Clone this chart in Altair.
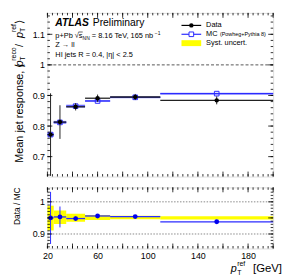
import altair as alt
import pandas as pd

# ---- data ----
bin_lo = [20, 25, 35, 50, 70, 110]
bin_hi = [25, 35, 50, 70, 110, 200]
bin_c = [22.5, 30, 42.5, 60, 90, 155]
data_resp = [0.772, 0.813, 0.863, 0.891, 0.895, 0.884]
data_err = [0.135, 0.055, 0.012, 0.012, 0.010, 0.013]
mc_resp = [0.772, 0.812, 0.865, 0.882, 0.894, 0.906]
mc_err = [0.006, 0.005, 0.005, 0.003, 0.003, 0.003]
ratio = [1.000, 1.006, 0.996, 1.012, 1.008, 0.976]
ratio_err = [0.162, 0.065, 0.014, 0.010, 0.010, 0.012]
syst_lo = [0.922, 0.962, 0.976, 0.987, 0.992, 0.990]
syst_hi = [1.076, 1.046, 1.026, 1.018, 1.014, 1.010]

x_major = [20, 40, 60, 80, 100, 120, 140, 160, 180, 200]
x_minor = list(range(20, 201, 4))
y1_major = [0.7, 0.8, 0.9, 1.0, 1.1]
y1_minor = [round(0.64 + 0.02 * i, 2) for i in range(27)]
y2_major = [0.9, 1.0, 1.1]
y2_minor = [round(0.82 + 0.02 * i, 2) for i in range(19)]

df = pd.DataFrame({
    "lo": bin_lo, "hi": bin_hi, "c": bin_c,
    "d": data_resp, "dlo": [a - b for a, b in zip(data_resp, data_err)],
    "dhi": [a + b for a, b in zip(data_resp, data_err)],
    "m": mc_resp, "mlo": [a - b for a, b in zip(mc_resp, mc_err)],
    "mhi": [a + b for a, b in zip(mc_resp, mc_err)],
    "r": ratio, "rlo": [a - b for a, b in zip(ratio, ratio_err)],
    "rhi": [a + b for a, b in zip(ratio, ratio_err)],
    "slo": syst_lo, "shi": syst_hi,
})

W, H1, H2 = 229, 166, 62
FONT = "Liberation Sans"
BLUE = "#2b2bff"
one = pd.DataFrame({"a": [0]})

xs = alt.Scale(domain=[20, 200], nice=False, zero=False)
ys1 = alt.Scale(domain=[0.635, 1.17], nice=False, zero=False)
ys2 = alt.Scale(domain=[0.81, 1.19], nice=False, zero=False)


def txt(s, x, y, size, angle=0, align="left", style=None, weight=None, baseline="middle"):
    kw = dict(text=s, fontSize=size, align=align, baseline=baseline, font=FONT, color="black")
    if angle:
        kw["angle"] = angle
    if style:
        kw["fontStyle"] = style
    if weight:
        kw["fontWeight"] = weight
    return alt.Chart(one).mark_text(**kw).encode(x=alt.value(x), y=alt.value(y))


def ticks(vals, axis, h, w, length, scale):
    d = pd.DataFrame({"v": vals})
    b = alt.Chart(d).mark_rule(color="black", strokeWidth=0.8)
    if axis == "x":
        f = alt.X("v:Q", scale=xs, title=None)
        return (b.encode(x=f, y=alt.value(h), y2=alt.value(h - length)) +
                b.encode(x=f, y=alt.value(0), y2=alt.value(length)))
    f = alt.Y("v:Q", scale=scale, title=None)
    return (b.encode(y=f, x=alt.value(0), x2=alt.value(length)) +
            b.encode(y=f, x=alt.value(w), x2=alt.value(w - length)))


axis_common = dict(ticks=False, domain=False, grid=False, labelFontSize=9, labelFont=FONT,
                   labelColor="black", labelPadding=3, title=None, labelOverlap=False)
yaxis1 = alt.Axis(values=y1_major, format="~g", **axis_common)
yaxis2 = alt.Axis(values=y2_major, format="~g", **axis_common)
xaxis2 = alt.Axis(values=x_major, format="d", labelFlush=False, **axis_common)

b1 = alt.Chart(df)
mc_band = b1.mark_rect(color="#8080ff", opacity=0.9).encode(
    x=alt.X("lo:Q", scale=xs, axis=None), x2="hi",
    y=alt.Y("mlo:Q", scale=ys1, axis=yaxis1), y2="mhi")
mc_line = b1.mark_rule(color=BLUE, strokeWidth=1.2).encode(x="lo:Q", x2="hi", y="m:Q")
mc_pt = b1.mark_point(shape="square", filled=False, color=BLUE, size=22, strokeWidth=1,
                      opacity=1).encode(x="c:Q", y="m:Q")
d_h = b1.mark_rule(color="#222222", strokeWidth=1.3).encode(x="lo:Q", x2="hi", y="d:Q")
d_v = b1.mark_rule(color="#222222", strokeWidth=1).encode(x="c:Q", y="dlo:Q", y2="dhi")
d_pt = b1.mark_circle(color="black", size=20, opacity=1).encode(x="c:Q", y="d:Q")
one_line = alt.Chart(pd.DataFrame({"v": [1.0]})).mark_rule(
    color="#555555", strokeDash=[3, 2], strokeWidth=1).encode(y=alt.Y("v:Q", scale=ys1))

# annotations
ann = [
    txt("ATLAS", 8, 10.7, 10.5, style="italic", weight="bold"),
    txt("Preliminary", 46, 10.7, 10.5),
    txt("p+Pb √s", 8, 23, 7.5),
    alt.Chart(one).mark_rule(color="black", strokeWidth=0.6).encode(
        x=alt.value(31.5), x2=alt.value(35.8), y=alt.value(19.4)),
    txt("NN", 35.7, 25.5, 5),
    txt("= 8.16 TeV, 165 nb", 45, 23, 7.5),
    txt("−1", 109, 20.3, 5),
    txt("Z → ll", 8, 32.7, 7.5),
    txt("HI jets R = 0.4, |η| < 2.5", 8, 42.3, 7.5),
]
# legend
leg = [
    alt.Chart(one).mark_rule(color="black", strokeWidth=1.2).encode(
        x=alt.value(136), x2=alt.value(156), y=alt.value(12.7)),
    alt.Chart(one).mark_circle(color="black", size=20, opacity=1).encode(
        x=alt.value(146), y=alt.value(12.7)),
    txt("Data", 161, 12.7, 7.5),
    alt.Chart(one).mark_rule(color=BLUE, strokeWidth=1.2).encode(
        x=alt.value(136), x2=alt.value(156), y=alt.value(21.7)),
    alt.Chart(one).mark_point(shape="square", filled=True, color="white", size=22, opacity=1).encode(
        x=alt.value(146), y=alt.value(21.7)),
    alt.Chart(one).mark_point(shape="square", filled=False, color=BLUE, size=22, strokeWidth=1,
                              opacity=1).encode(x=alt.value(146), y=alt.value(21.7)),
    txt("MC", 161, 21.7, 7.5),
    txt("(Powheg+Pythia 8)", 175, 21.9, 5.5),
    alt.Chart(one).mark_rect(color="#ffff00").encode(
        x=alt.value(136), x2=alt.value(156), y=alt.value(27.7), y2=alt.value(33.7)),
    txt("Syst. uncert.", 161, 30.7, 7.5),
]
# rotated y title (top)
ytitle = [
    txt("Mean jet response, ⟨", -28, 152, 11, angle=270),
    txt("p", -28, 54.5, 11, angle=270, style="italic"),
    txt("T", -25, 48.5, 7, angle=270),
    txt("reco", -33.5, 48.5, 7, angle=270),
    txt(" / ", -28, 34.5, 11, angle=270),
    txt("p", -28, 25.5, 11, angle=270, style="italic"),
    txt("T", -25, 19.5, 7, angle=270),
    txt("ref", -33.5, 19.5, 7, angle=270),
    txt("⟩", -28, 11.0, 11, angle=270),
]

top = alt.layer(
    mc_band, one_line, mc_line, mc_pt, d_h, d_v, d_pt,
    ticks(x_major, "x", H1, W, 5, ys1), ticks(x_minor, "x", H1, W, 2.5, ys1),
    ticks(y1_major, "y", H1, W, 5, ys1), ticks(y1_minor, "y", H1, W, 2.5, ys1),
    *ann, *leg, *ytitle,
).properties(width=W, height=H1)

b2 = alt.Chart(df)
syst = b2.mark_rect(color="#ffff00").encode(
    x=alt.X("lo:Q", scale=xs, axis=xaxis2), x2="hi",
    y=alt.Y("slo:Q", scale=ys2, axis=yaxis2), y2="shi")
dots = alt.Chart(pd.DataFrame({"v": [0.9, 1.1]})).mark_rule(
    color="#888888", strokeDash=[1.5, 1.5], strokeWidth=1).encode(y=alt.Y("v:Q", scale=ys2))
r_h = b2.mark_rule(color=BLUE, strokeWidth=1.3).encode(x="lo:Q", x2="hi", y="r:Q")
r_v = b2.mark_rule(color=BLUE, strokeWidth=1).encode(x="c:Q", y="rlo:Q", y2="rhi")
r_pt = b2.mark_circle(color="#0000ee", size=24, opacity=1).encode(x="c:Q", y="r:Q")

xtitle = [
    txt("p", 186, 83, 11, style="italic"),
    txt("T", 192.5, 86.5, 7),
    txt("ref", 192.5, 78, 7),
    txt("[GeV]", 238, 83, 11.5, align="right"),
]

bottom = alt.layer(
    syst, dots, r_h, r_v, r_pt,
    ticks(x_major, "x", H2, W, 5, ys2), ticks(x_minor, "x", H2, W, 2.5, ys2),
    ticks(y2_major, "y", H2, W, 5, ys2), ticks(y2_minor, "y", H2, W, 2.5, ys2),
    txt("Data / MC", -31, 0, 8.5, angle=270, align="right"),
    *xtitle,
).properties(width=W, height=H2)

chart = alt.vconcat(top, bottom, spacing=9).properties(
    padding={"left": 2, "top": 2, "right": 0, "bottom": 0}
).configure_view(stroke="black", strokeWidth=1).configure(background="white")

chart.save("out.html", embed_options={"renderer": "svg", "actions": False})
